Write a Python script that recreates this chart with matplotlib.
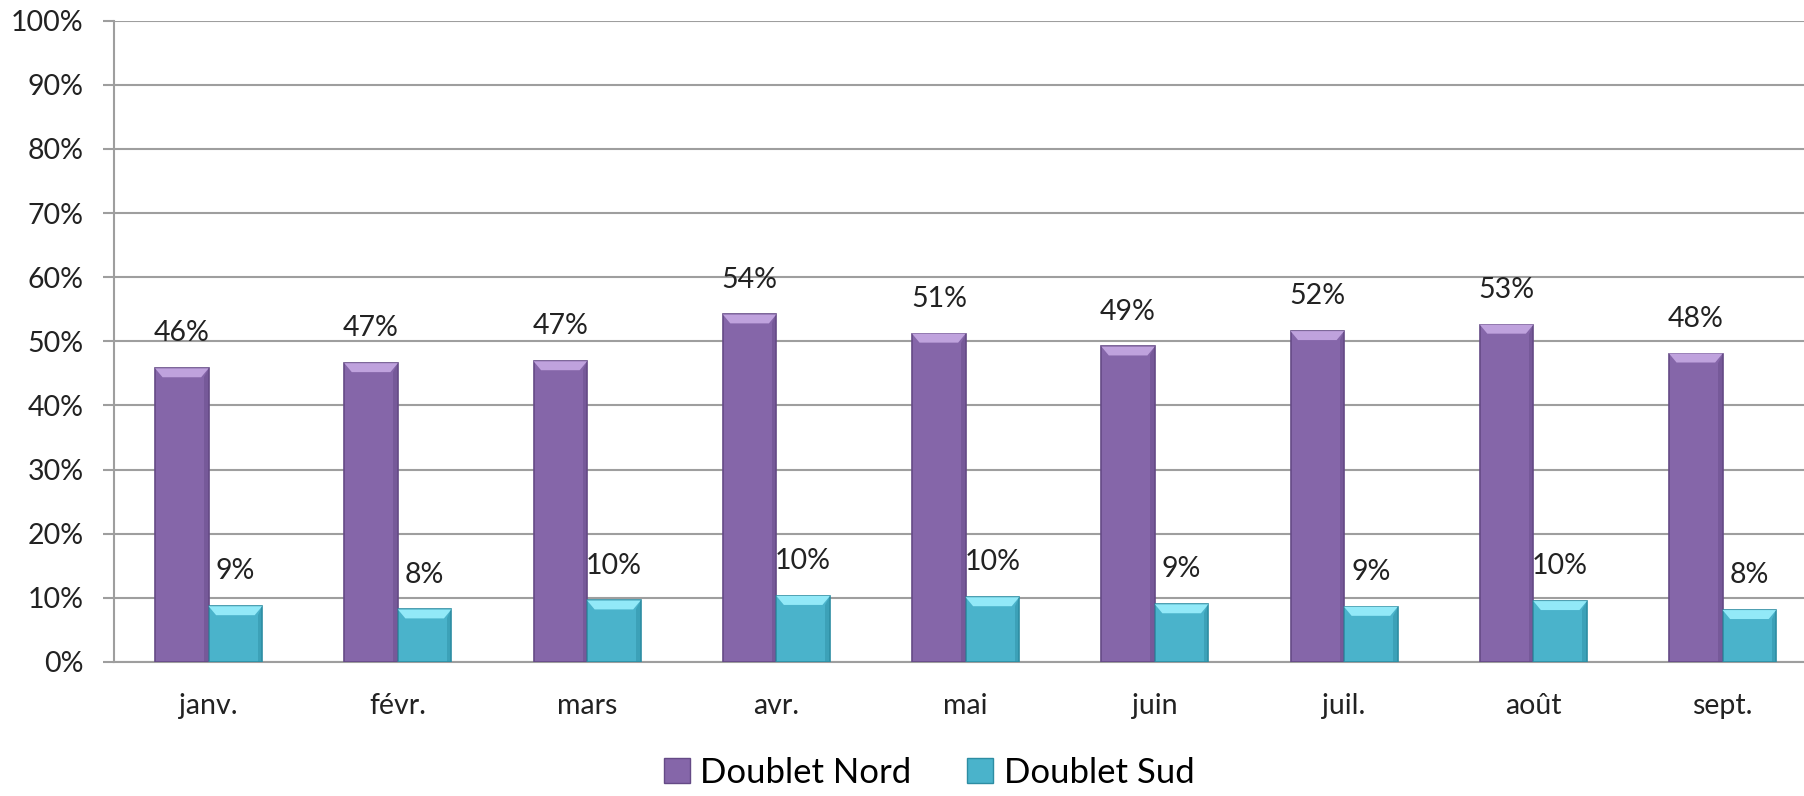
import matplotlib
matplotlib.use("Agg")
import matplotlib.pyplot as plt
from matplotlib.patches import Polygon, Patch
from matplotlib.ticker import FuncFormatter
import numpy as np

plt.rcParams["font.family"] = ["Lato", "DejaVu Sans"]

months = ["janv.", "févr.", "mars", "avr.", "mai", "juin", "juil.", "août", "sept."]
nord = [45.8, 46.6, 46.9, 54.2, 51.2, 49.2, 51.6, 52.6, 48.1]
sud = [8.7, 8.2, 9.6, 10.3, 10.1, 9.0, 8.6, 9.5, 8.1]
series_names = ["Doublet Nord", "Doublet Sud"]

PURPLE = ("#8566A9", "#BFA2DD", "#654A86")   # body, top bevel, edge
CYAN = ("#4AB3CB", "#92E9F8", "#2D8DA3")
GRID = "#9E9E9E"
TXT = "#222222"

W = 0.283
fig = plt.figure(figsize=(18.04, 7.96), dpi=100)
ax = fig.add_axes([114 / 1804, 1 - 662 / 796, 1 - 114 / 1804, (662 - 20.7) / 796])
x = np.arange(len(months))


def bevel_bars(xs, vals, cols):
    bars = ax.bar(xs, vals, width=W, color=cols[0], edgecolor=cols[2], linewidth=1.2, zorder=3)
    bh = 1.4     # bevel depth in y units
    bw = W * 0.14
    for b in bars:
        x0, x1 = b.get_x(), b.get_x() + b.get_width()
        top = b.get_height()
        ax.add_patch(Polygon([(x0, top), (x1, top), (x1 - bw, top - bh), (x0 + bw, top - bh)],
                             closed=True, fc=cols[1], ec="none", zorder=4))
        ax.add_patch(Polygon([(x1, top), (x1, 0), (x1 - bw * 0.6, 0), (x1 - bw * 0.6, top - bh)],
                             closed=True, fc=cols[2], ec="none", alpha=0.45, zorder=4))
    return bars


bevel_bars(x - W / 2, nord, PURPLE)
bevel_bars(x + W / 2, sud, CYAN)

for xi, v in zip(x, nord):
    ax.text(xi - W / 2, v + 3.4, f"{round(v)}%", ha="center", va="bottom", fontsize=20.5, color=TXT, zorder=5)
for xi, v in zip(x, sud):
    ax.text(xi + W / 2, v + 3.4, f"{round(v)}%", ha="center", va="bottom", fontsize=20.5, color=TXT, zorder=5)

ax.set_xlim(-0.5, 8.43)
ax.set_ylim(0, 100)
ax.set_yticks(np.arange(0, 101, 10))
ax.yaxis.set_major_formatter(FuncFormatter(lambda v, _: f"{v:.0f}%"))
ax.grid(axis="y", color=GRID, linewidth=1.5, zorder=0)
ax.set_xticks(x)
ax.set_xticklabels(months)
ax.tick_params(axis="y", length=8, width=1.5, color=GRID, pad=14, labelsize=20.5, labelcolor=TXT)
ax.tick_params(axis="x", length=0, pad=22, labelsize=20.5, labelcolor=TXT)
for k, sp in ax.spines.items():
    sp.set_visible(k in ("left", "bottom"))
    sp.set_color(GRID)
    sp.set_linewidth(1.5)

handles = [Patch(fc=PURPLE[0], ec=PURPLE[2]), Patch(fc=CYAN[0], ec=CYAN[2])]
fig.legend(handles, series_names, loc="lower center", bbox_to_anchor=(0.515, -0.03), ncol=2,
           frameon=False, fontsize=25, handlelength=0.75, handleheight=0.75, handletextpad=0.3,
           columnspacing=1.6)

fig.savefig("out.png", facecolor="white")
